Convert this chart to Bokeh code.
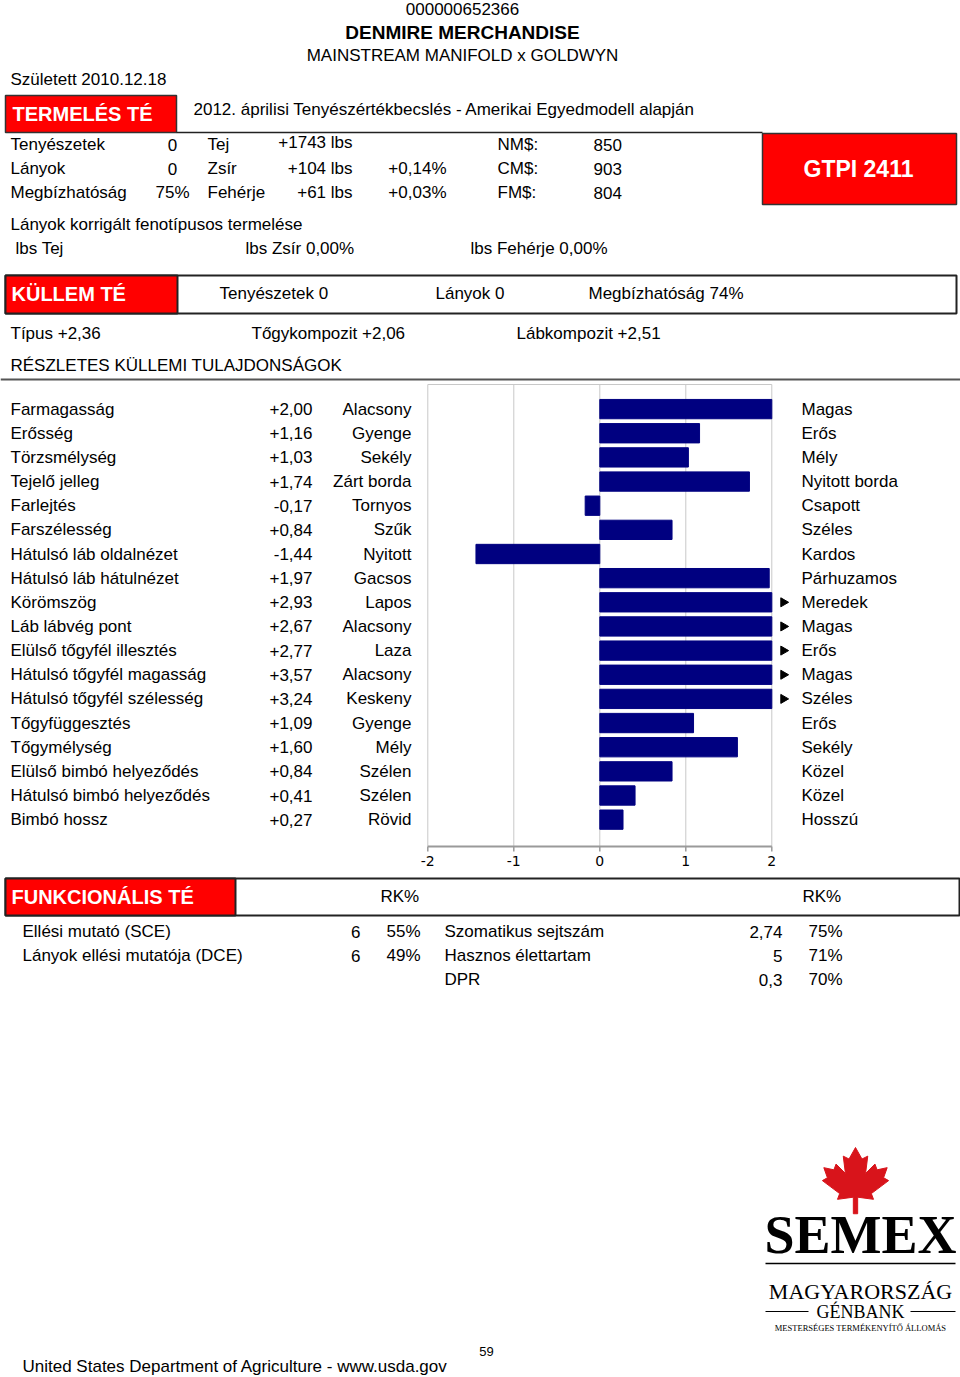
from bokeh.plotting import figure
from bokeh.models import Range1d
from bokeh.core.properties import value
from bokeh.embed import file_html
from bokeh.resources import INLINE

# ---------------- data ----------------
reg_no = "000000652366"
bull_name = "DENMIRE MERCHANDISE"
pedigree = "MAINSTREAM MANIFOLD x GOLDWYN"
born = "Született 2010.12.18"
eval_note = "2012. áprilisi Tenyészértékbecslés - Amerikai Egyedmodell alapján"

header_labels = ["Tenyészetek", "Lányok", "Megbízhatóság"]
header_counts = ["0", "0", "75%"]
prod_traits = ["Tej", "Zsír", "Fehérje"]
prod_lbs = ["+1743 lbs", "+104 lbs", "+61 lbs"]
prod_pct = ["", "+0,14%", "+0,03%"]
index_names = ["NM$:", "CM$:", "FM$:"]
index_values = ["850", "903", "804"]
gtpi_text = "GTPI 2411"

pheno_title = "Lányok korrigált fenotípusos termelése"
pheno_labels = ["lbs Tej", "lbs Zsír  0,00%", "lbs Fehérje  0,00%"]

type_header = ["Tenyészetek 0", "Lányok 0", "Megbízhatóság 74%"]
composites = ["Típus +2,36", "Tőgykompozit +2,06", "Lábkompozit +2,51"]
detail_title = "RÉSZLETES KÜLLEMI TULAJDONSÁGOK"

traits = ["Farmagasság", "Erősség", "Törzsmélység", "Tejelő jelleg", "Farlejtés",
          "Farszélesség", "Hátulsó láb oldalnézet", "Hátulsó láb hátulnézet",
          "Körömszög", "Láb lábvég pont", "Elülső tőgyfél illesztés",
          "Hátulsó tőgyfél magasság", "Hátulsó tőgyfél szélesség", "Tőgyfüggesztés",
          "Tőgymélység", "Elülső bimbó helyeződés", "Hátulsó bimbó helyeződés",
          "Bimbó hossz"]
trait_values = [2.00, 1.16, 1.03, 1.74, -0.17, 0.84, -1.44, 1.97, 2.93, 2.67,
                2.77, 3.57, 3.24, 1.09, 1.60, 0.84, 0.41, 0.27]
low_labels = ["Alacsony", "Gyenge", "Sekély", "Zárt borda", "Tornyos", "Szűk",
              "Nyitott", "Gacsos", "Lapos", "Alacsony", "Laza", "Alacsony",
              "Keskeny", "Gyenge", "Mély", "Szélen", "Szélen", "Rövid"]
high_labels = ["Magas", "Erős", "Mély", "Nyitott borda", "Csapott", "Széles",
               "Kardos", "Párhuzamos", "Meredek", "Magas", "Erős", "Magas",
               "Széles", "Erős", "Sekély", "Közel", "Közel", "Hosszú"]
axis_ticks = [-2, -1, 0, 1, 2]
axis_limit = 2

func_left_labels = ["Ellési mutató (SCE)", "Lányok ellési mutatója (DCE)"]
func_left_values = ["6", "6"]
func_left_rel = ["55%", "49%"]
func_right_labels = ["Szomatikus sejtszám", "Hasznos élettartam", "DPR"]
func_right_values = ["2,74", "5", "0,3"]
func_right_rel = ["75%", "71%", "70%"]

footer = "United States Department of Agriculture - www.usda.gov"
page_no = "59"

# ---------------- figure ----------------
RED = "#ff0000"
NAVY = "#000080"
FONT = "Liberation Sans"
SERIF = "Liberation Serif"
W, H = 960, 1377

p = figure(width=W, height=H, x_range=Range1d(0, W), y_range=Range1d(H, 0),
           output_backend="svg", toolbar_location=None, min_border=0,
           x_axis_type=None, y_axis_type=None)
p.grid.visible = False
p.outline_line_color = None

# extra ranges for the bar chart (value scale and row index scale)
X0, UNIT = 599.3, 86.0
R0, RSTEP = 408.6, 24.15
p.extra_x_ranges = {"bars": Range1d((0 - X0) / UNIT, (W - X0) / UNIT)}
p.extra_y_ranges = {"rows": Range1d((H - R0) / RSTEP, (0 - R0) / RSTEP)}


def txt(xs, ys, texts, size=17, align="left", bold=False, color="black",
        font=FONT, baseline="middle", **kw):
    p.text(x=xs, y=ys, text=texts, text_font=value(font),
           text_font_size=f"{size}px", text_align=align, text_baseline=baseline,
           text_color=color, text_font_style="bold" if bold else "normal", **kw)


# ---------------- title block ----------------
txt([462], [8], [reg_no], 17, "center")
txt([462], [32], [bull_name], 19, "center", bold=True)
txt([462], [55], [pedigree], 17, "center")
txt([10], [79], [born], 17)

# TERMELÉS box
p.quad(left=5, right=176, top=95, bottom=132, fill_color=RED, line_color="#333333", line_width=1.5)
p.segment(x0=176, y0=132, x1=762, y1=132, line_color="#222222", line_width=1.5)
txt([12], [113], ["TERMELÉS TÉ"], 20, bold=True, color="white")
txt([193], [109], [eval_note], 17)

rows_y = [144, 168, 192]
txt([10] * 3, rows_y, header_labels, 17)
txt([172] * 3, rows_y, header_counts, 17, "center")
txt([207] * 3, rows_y, prod_traits, 17)
txt([352] * 3, [142, 168, 192], prod_lbs, 17, "right")
txt([446] * 3, rows_y, prod_pct, 17, "right")
txt([497] * 3, rows_y, index_names, 17)
txt([593] * 3, rows_y, index_values, 17)

# GTPI box
p.quad(left=762, right=956, top=133, bottom=204, fill_color=RED, line_color="#333333", line_width=1.5)
txt([858], [168], [gtpi_text], 23, "center", bold=True, color="white")

txt([10], [224], [pheno_title], 17)
txt([15, 245, 470], [248, 248, 248], pheno_labels, 17)

# KÜLLEM box
p.quad(left=5, right=956, top=275, bottom=313, fill_color="white", line_color="#222222", line_width=2)
p.quad(left=5, right=177, top=275, bottom=313, fill_color=RED, line_color="#222222", line_width=2)
txt([11], [293], ["KÜLLEM TÉ"], 20, bold=True, color="white")
txt([219, 435, 588], [293, 293, 293], type_header, 17)

txt([10, 251, 516], [333, 333, 333], composites, 17)
txt([10], [365], [detail_title], 17)
p.segment(x0=0, y0=379, x1=960, y1=379, line_color="#555555", line_width=2)

# ---------------- bar chart ----------------
n = len(traits)
idx = list(range(n))
shown = [max(min(v, axis_limit), -axis_limit) for v in trait_values]

# frame and grid
p.segment(x0=[-2], y0=[384], x1=[2], y1=[384], x_range_name="bars", line_color="#c8c8c8", line_width=1)
p.segment(x0=axis_ticks, y0=[384] * 5, x1=axis_ticks, y1=[846] * 5, x_range_name="bars",
          line_color="#c8c8c8", line_width=1)
p.segment(x0=[-2], y0=[846], x1=[2], y1=[846], x_range_name="bars", line_color="#9a9a9a", line_width=2)
p.segment(x0=axis_ticks, y0=[846] * 5, x1=axis_ticks, y1=[851] * 5, x_range_name="bars",
          line_color="#9a9a9a", line_width=1.5)
txt(axis_ticks, [860] * 5, [str(t) for t in axis_ticks], 14, "center",
    font="DejaVu Sans", x_range_name="bars")

p.hbar(y=idx, left=0, right=shown, height=0.8, fill_color=NAVY, line_color=NAVY,
       x_range_name="bars", y_range_name="rows")

over = [i for i, v in enumerate(trait_values) if v > axis_limit]
p.scatter(x=[axis_limit + 0.135] * len(over), y=over, marker="triangle", size=9,
          angle=-1.5708, fill_color="black", line_color="black",
          x_range_name="bars", y_range_name="rows")

val_text = [f"{v:+.2f}".replace(".", ",") for v in trait_values]
txt([10] * n, idx, traits, 17, y_range_name="rows")
txt([312] * n, idx, val_text, 17, "right", y_range_name="rows")
txt([411] * n, idx, low_labels, 17, "right", y_range_name="rows")
txt([801] * n, idx, high_labels, 17, y_range_name="rows")

# ---------------- functional block ----------------
p.quad(left=5, right=959, top=878, bottom=915, fill_color="white", line_color="#222222", line_width=2)
p.quad(left=5, right=235, top=878, bottom=915, fill_color=RED, line_color="#222222", line_width=2)
txt([11], [896], ["FUNKCIONÁLIS TÉ"], 20, bold=True, color="white")
txt([380, 802], [896, 896], ["RK%", "RK%"], 17)

fy = [931, 955, 979]
txt([22] * 2, fy[:2], func_left_labels, 17)
txt([360] * 2, fy[:2], func_left_values, 17, "right")
txt([420] * 2, fy[:2], func_left_rel, 17, "right")
txt([444] * 3, fy, func_right_labels, 17)
txt([782] * 3, fy, func_right_values, 17, "right")
txt([842] * 3, fy, func_right_rel, 17, "right")

# ---------------- logo ----------------
leaf = [(0, -50), (9, -34), (17, -38), (14, -14), (27, -27), (30, -19), (44, -22),
        (39, -8), (46, -4), (22, 14), (25, 22), (3, 19), (3, 42), (-3, 42), (-3, 19),
        (-25, 22), (-22, 14), (-46, -4), (-39, -8), (-44, -22), (-30, -19), (-27, -27),
        (-14, -14), (-17, -38), (-9, -34)]
lx = [855 + 0.72 * a for a, b in leaf]
ly = [1183 + 0.72 * b for a, b in leaf]
p.patch(lx, ly, fill_color="#d8141b", line_color="#d8141b")

txt([860], [1234], ["SEMEX"], 54, "center", bold=True, font=SERIF)
p.segment(x0=765, y0=1263, x1=955, y1=1263, line_color="black", line_width=1.5)
txt([860], [1291], ["MAGYARORSZÁG"], 22, "center", font=SERIF)
txt([860], [1311], ["GÉNBANK"], 18, "center", font=SERIF)
p.segment(x0=[765, 910], y0=[1311, 1311], x1=[808, 955], y1=[1311, 1311], line_color="black", line_width=1.2)
txt([860], [1327], ["MESTERSÉGES TERMÉKENYÍTŐ ÁLLOMÁS"], 8.5, "center", font=SERIF)

# ---------------- footer ----------------
txt([22], [1366], [footer], 17)
txt([486], [1351], [page_no], 13, "center")

open("out.html", "w").write(file_html(p, INLINE))
